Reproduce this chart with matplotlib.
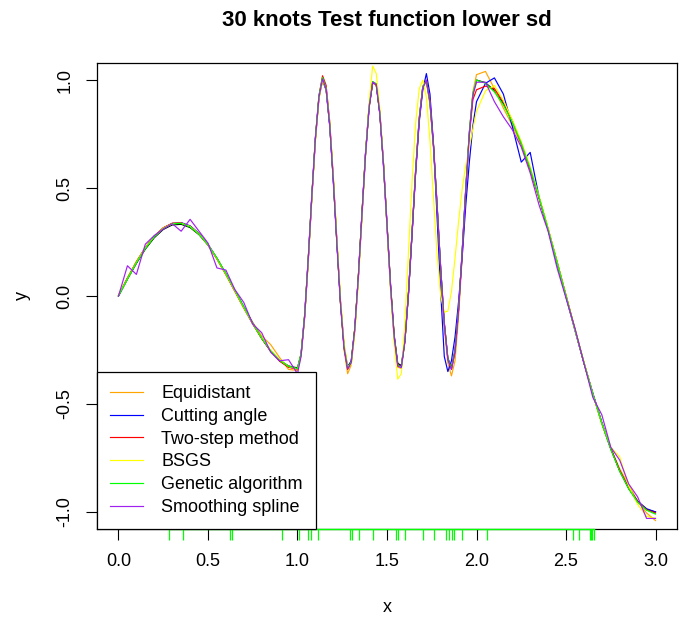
import numpy as np
import matplotlib
matplotlib.use('Agg')
import matplotlib.pyplot as plt
from matplotlib.transforms import blended_transform_factory

plt.rcParams['font.family'] = ['Liberation Sans', 'DejaVu Sans']

# ---------------- data ----------------
# sampling grid (x)
x_grid = np.round(np.concatenate([np.arange(0, 1.0001, 0.05),
                                  np.arange(1.02, 2.0001, 0.02),
                                  np.arange(2.05, 3.0001, 0.05)]), 3)

true_curve = [
    0.000, 0.078, 0.151, 0.217, 0.270, 0.308, 0.329, 0.332, 0.317, 0.284, 0.236,
    0.174, 0.103, 0.026, -0.052, -0.128, -0.196, -0.254, -0.297, -0.324, -0.333,
    -0.270, -0.092, 0.168, 0.458, 0.725, 0.918, 0.999, 0.953, 0.790, 0.539,
    0.250, -0.024, -0.230, -0.328, -0.301, -0.153, 0.088, 0.375, 0.655, 0.873,
    0.988, 0.979, 0.847, 0.617, 0.333, 0.050, -0.180, -0.312, -0.322, -0.206,
    0.012, 0.292, 0.579, 0.819, 0.967, 0.995, 0.896, 0.691, 0.417, 0.127,
    -0.123, -0.287, -0.332, -0.251, -0.059, 0.208, 0.499, 0.758, 0.937, 1.000,
    0.988, 0.951, 0.891, 0.809, 0.707, 0.588, 0.454, 0.309, 0.156, 0.000,
    -0.156, -0.309, -0.454, -0.588, -0.707, -0.809, -0.891, -0.951, -0.988, -1.000]

equidistant = [
    0.005, 0.085, 0.160, 0.225, 0.278, 0.315, 0.336, 0.338, 0.322, 0.288, 0.236,
    0.170, 0.098, 0.022, -0.055, -0.122, -0.185, -0.225, -0.285, -0.340, -0.345,
    -0.275, -0.100, 0.160, 0.452, 0.722, 0.918, 1.005, 0.962, 0.800, 0.545,
    0.250, -0.035, -0.250, -0.360, -0.320, -0.158, 0.090, 0.380, 0.660, 0.876,
    0.985, 0.975, 0.845, 0.612, 0.325, 0.040, -0.195, -0.330, -0.335, -0.210,
    0.015, 0.300, 0.590, 0.828, 0.970, 0.990, 0.885, 0.680, 0.400, 0.100,
    -0.150, -0.310, -0.370, -0.300, -0.095, 0.180, 0.480, 0.750, 0.945, 1.025,
    1.040, 0.960, 0.870, 0.790, 0.700, 0.585, 0.455, 0.312, 0.160, 0.005,
    -0.150, -0.305, -0.455, -0.590, -0.705, -0.800, -0.875, -0.950, -1.005, -1.040]

cutting_angle = [
    0.000, 0.080, 0.155, 0.222, 0.276, 0.314, 0.336, 0.340, 0.325, 0.290, 0.240,
    0.175, 0.102, 0.025, -0.050, -0.125, -0.195, -0.255, -0.300, -0.328, -0.338,
    -0.272, -0.095, 0.165, 0.458, 0.730, 0.925, 1.010, 0.958, 0.790, 0.535,
    0.245, -0.030, -0.235, -0.333, -0.305, -0.155, 0.088, 0.378, 0.660, 0.878,
    0.990, 0.978, 0.842, 0.610, 0.325, 0.040, -0.190, -0.318, -0.325, -0.205,
    0.015, 0.290, 0.570, 0.805, 0.955, 1.030, 0.935, 0.700, 0.360, 0.020,
    -0.280, -0.350, -0.300, -0.190, -0.025, 0.180, 0.420, 0.620, 0.790, 0.900,
    0.985, 1.010, 0.935, 0.785, 0.620, 0.665, 0.455, 0.305, 0.150, -0.005,
    -0.160, -0.310, -0.450, -0.585, -0.705, -0.810, -0.890, -0.950, -0.985, -1.000]

two_step = [
    0.002, 0.082, 0.158, 0.224, 0.277, 0.316, 0.337, 0.338, 0.322, 0.287, 0.237,
    0.172, 0.100, 0.022, -0.056, -0.130, -0.197, -0.256, -0.302, -0.330, -0.340,
    -0.268, -0.088, 0.172, 0.463, 0.732, 0.928, 1.020, 0.975, 0.808, 0.550,
    0.255, -0.025, -0.236, -0.340, -0.310, -0.150, 0.092, 0.380, 0.660, 0.878,
    0.992, 0.982, 0.850, 0.620, 0.335, 0.048, -0.185, -0.318, -0.328, -0.210,
    0.010, 0.290, 0.578, 0.820, 0.970, 1.000, 0.902, 0.695, 0.420, 0.128,
    -0.125, -0.292, -0.340, -0.258, -0.062, 0.205, 0.492, 0.745, 0.910, 0.955,
    0.972, 0.960, 0.900, 0.812, 0.705, 0.585, 0.452, 0.310, 0.158, 0.002,
    -0.155, -0.310, -0.455, -0.590, -0.708, -0.808, -0.890, -0.952, -0.990, -1.005]

bsgs = [
    0.003, 0.080, 0.156, 0.223, 0.276, 0.314, 0.335, 0.337, 0.322, 0.288, 0.238,
    0.173, 0.101, 0.024, -0.054, -0.128, -0.194, -0.250, -0.296, -0.326, -0.338,
    -0.275, -0.100, 0.155, 0.445, 0.715, 0.912, 0.998, 0.960, 0.805, 0.560,
    0.275, 0.000, -0.212, -0.325, -0.320, -0.180, 0.060, 0.350, 0.650, 0.900,
    1.065, 1.030, 0.870, 0.620, 0.320, 0.020, -0.225, -0.385, -0.360, -0.120,
    0.200, 0.530, 0.800, 0.960, 1.000, 0.920, 0.720, 0.450, 0.190, 0.000,
    -0.075, -0.070, 0.020, 0.175, 0.345, 0.495, 0.605, 0.690, 0.775, 0.855,
    0.950, 0.975, 0.905, 0.815, 0.715, 0.600, 0.460, 0.315, 0.158, 0.000,
    -0.158, -0.305, -0.455, -0.590, -0.700, -0.745, -0.880, -0.965, -1.020, -1.030]

genetic = [
    0.000, 0.079, 0.154, 0.220, 0.274, 0.312, 0.334, 0.336, 0.320, 0.286, 0.237,
    0.175, 0.104, 0.027, -0.051, -0.127, -0.195, -0.254, -0.298, -0.326, -0.336,
    -0.265, -0.085, 0.175, 0.466, 0.735, 0.928, 1.012, 0.962, 0.795, 0.540,
    0.248, -0.028, -0.236, -0.336, -0.305, -0.150, 0.092, 0.380, 0.660, 0.878,
    0.993, 0.982, 0.848, 0.615, 0.330, 0.045, -0.186, -0.320, -0.330, -0.208,
    0.014, 0.295, 0.583, 0.823, 0.970, 0.997, 0.896, 0.690, 0.415, 0.125,
    -0.126, -0.290, -0.336, -0.254, -0.060, 0.208, 0.500, 0.760, 0.940, 1.000,
    0.985, 0.945, 0.885, 0.805, 0.708, 0.590, 0.456, 0.310, 0.157, 0.001,
    -0.155, -0.308, -0.455, -0.590, -0.710, -0.812, -0.893, -0.955, -0.992, -1.010]

smoothing = [
    0.000, 0.140, 0.100, 0.240, 0.280, 0.310, 0.335, 0.300, 0.355, 0.300, 0.245,
    0.130, 0.120, 0.030, -0.030, -0.130, -0.170, -0.260, -0.300, -0.295, -0.360,
    -0.280, -0.095, 0.168, 0.460, 0.728, 0.920, 1.005, 0.958, 0.792, 0.538,
    0.245, -0.030, -0.240, -0.338, -0.310, -0.156, 0.085, 0.372, 0.652, 0.872,
    0.990, 0.980, 0.845, 0.612, 0.328, 0.042, -0.190, -0.325, -0.332, -0.210,
    0.008, 0.288, 0.575, 0.815, 0.965, 0.998, 0.900, 0.695, 0.418, 0.125,
    -0.128, -0.295, -0.340, -0.258, -0.065, 0.202, 0.490, 0.750, 0.930, 0.990,
    0.990, 0.900, 0.830, 0.770, 0.690, 0.570, 0.420, 0.300, 0.130, -0.010,
    -0.150, -0.310, -0.470, -0.550, -0.700, -0.760, -0.870, -0.930, -1.030, -1.030]

knots = [0.281, 0.359, 0.624, 0.635, 0.914, 1.011, 1.061, 1.073, 1.114, 1.291,
         1.305, 1.346, 1.421, 1.551, 1.564, 1.603, 1.700, 1.765, 1.831, 1.845,
         1.864, 1.877, 1.918, 2.060, 2.538, 2.570, 2.635, 2.641, 2.646, 2.655]

series_names = ["Equidistant", "Cutting angle", "Two-step method", "BSGS",
                "Genetic algorithm", "Smoothing spline"]
series_values = [equidistant, cutting_angle, two_step, bsgs, genetic, smoothing]
series_colors = ["#FFA500", "#0000FF", "#FF0000", "#FFFF00", "#00FF00", "#A020F0"]

x_ticks = [0.0, 0.5, 1.0, 1.5, 2.0, 2.5, 3.0]
x_tick_labels = ["0.0", "0.5", "1.0", "1.5", "2.0", "2.5", "3.0"]
y_ticks = [-1.0, -0.5, 0.0, 0.5, 1.0]
y_tick_labels = ["-1.0", "-0.5", "0.0", "0.5", "1.0"]

# ---------------- figure ----------------
W, H = 688, 621
fig = plt.figure(figsize=(W / 100, H / 100), dpi=100)
L, R, T, B = 97, 677, 63, 529
ax = fig.add_axes([L / W, 1 - B / H, (R - L) / W, (B - T) / H])

LW = 0.85
ax.plot(x_grid, true_curve, color='black', lw=LW, zorder=2)
lines = []
for name, vals, col in zip(series_names, series_values, series_colors):
    ln, = ax.plot(x_grid, vals, color=col, lw=LW, label=name, zorder=3)
    lines.append(ln)

ax.set_xlim(-0.12, 3.12)
ax.set_ylim(-1.079, 1.079)

ax.set_xticks(x_ticks)
ax.set_xticklabels(x_tick_labels)
ax.set_yticks(y_ticks)
ax.set_yticklabels(y_tick_labels, rotation=90, va='center')
ax.tick_params(axis='both', direction='out', length=8, width=0.8,
               labelsize=13, colors='black')
ax.tick_params(axis='x', pad=9)
ax.tick_params(axis='y', pad=9)
for sp in ax.spines.values():
    sp.set_color('black')
    sp.set_linewidth(0.9)

# rug of knots (outward ticks below the axis)
trans = blended_transform_factory(ax.transData, ax.transAxes)
tick_len = 11 / (B - T)
ax.vlines(knots, -tick_len, 0, colors='#00FF00', lw=0.9, transform=trans,
          clip_on=False, zorder=5)
ax.plot([min(knots), max(knots)], [0, 0], color='#00FF00', lw=1.0,
        transform=trans, clip_on=False, zorder=5)

leg = ax.legend(handles=lines, loc='lower left', bbox_to_anchor=(0, 0),
                borderaxespad=0, fontsize=13, frameon=True, fancybox=False,
                edgecolor='black', framealpha=1, borderpad=0.72,
                handlelength=1.85, handletextpad=1.0, labelspacing=0.32)
leg.get_frame().set_linewidth(0.9)
leg.set_zorder(10)

fig.text(387 / W, 1 - 20 / H, "30 knots Test function lower sd",
         fontsize=16, fontweight='bold', ha='center', va='center')
fig.text(387 / W, 1 - 607 / H, "x", fontsize=13, ha='center', va='center')
fig.text(22 / W, 1 - 296 / H, "y", fontsize=13, ha='center', va='center',
         rotation=90)

fig.savefig('out.png', dpi=100)
